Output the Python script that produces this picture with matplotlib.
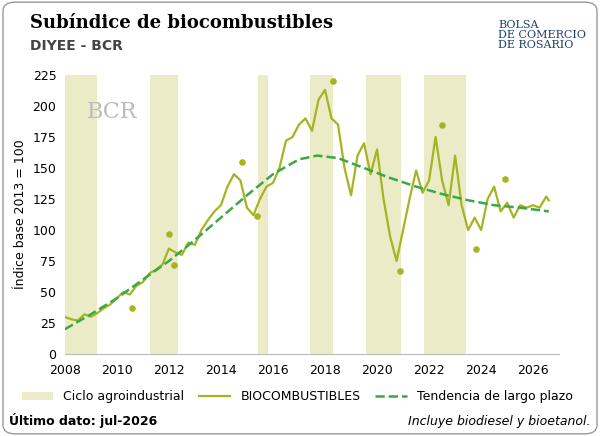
import matplotlib.pyplot as plt
from matplotlib.patches import FancyBboxPatch

# serie (aprox. trimestral)
t = [2008.0, 2008.25, 2008.5, 2008.75, 2009.0, 2009.25, 2009.5, 2009.75, 2010.0, 2010.25,
     2010.5, 2010.75, 2011.0, 2011.25, 2011.5, 2011.75, 2012.0, 2012.25, 2012.5, 2012.75,
     2013.0, 2013.25, 2013.5, 2013.75, 2014.0, 2014.25, 2014.5, 2014.75, 2015.0, 2015.25,
     2015.5, 2015.75, 2016.0, 2016.25, 2016.5, 2016.75, 2017.0, 2017.25, 2017.5, 2017.75,
     2018.0, 2018.25, 2018.5, 2018.75, 2019.0, 2019.25, 2019.5, 2019.75, 2020.0, 2020.25,
     2020.5, 2020.75, 2021.0, 2021.25, 2021.5, 2021.75, 2022.0, 2022.25, 2022.5, 2022.75,
     2023.0, 2023.25, 2023.5, 2023.75, 2024.0, 2024.25, 2024.5, 2024.75, 2025.0, 2025.25,
     2025.5, 2025.75, 2026.0, 2026.25, 2026.5, 2026.6]
bio = [30, 28, 27, 32, 30, 33, 37, 40, 45, 50,
       48, 55, 58, 65, 68, 72, 85, 82, 80, 90,
       88, 100, 108, 115, 120, 135, 145, 140, 118, 112,
       125, 135, 138, 150, 172, 175, 185, 190, 180, 205,
       213, 190, 185, 150, 128, 160, 170, 145, 165, 125,
       95, 75, 100, 125, 148, 130, 140, 175, 140, 120,
       160, 120, 100, 110, 100, 125, 135, 115, 122, 110,
       120, 118, 120, 118, 127, 124]

# puntos destacados
dot_t = [2010.6, 2012.0, 2012.2, 2014.8, 2015.4, 2018.3, 2020.9, 2022.5, 2023.8, 2024.9]
dot_v = [37, 97, 72, 155, 111, 220, 67, 185, 85, 141]

# tendencia de largo plazo
tr_t = [2008, 2009, 2010, 2011, 2012, 2013, 2014, 2015, 2016, 2017, 2017.7,
        2018.5, 2019.5, 2020.5, 2021.5, 2022.5, 2023.5, 2024.5, 2025.5, 2026.6]
tr_v = [20, 32, 45, 60, 75, 92, 110, 128, 145, 157, 160,
        158, 150, 142, 135, 129, 124, 120, 118, 115]

# ciclos agroindustriales
ciclos = [(2008.0, 2009.25), (2011.27, 2012.35), (2015.42, 2015.8),
          (2017.42, 2018.3), (2019.58, 2020.92), (2021.8, 2023.4)]

fig = plt.figure(figsize=(6, 4.36), dpi=100)
fig.patches.append(FancyBboxPatch((0.005, 0.005), 0.99, 0.99, boxstyle="round,pad=0,rounding_size=0.02",
                                  transform=fig.transFigure, fc='none', ec='#999999', lw=1))
ax = fig.add_axes([0.108, 0.188, 0.824, 0.64])

for i, (a, b) in enumerate(ciclos):
    ax.axvspan(a, b, color='#ecebc8', lw=0, label='Ciclo agroindustrial' if i == 0 else None)
ax.plot(t, bio, color='#a5b422', lw=1.6, label='BIOCOMBUSTIBLES')
ax.scatter(dot_t, dot_v, color='#a5b422', s=14, zorder=3)
ax.plot(tr_t, tr_v, color='#3aa845', lw=1.8, ls='--', label='Tendencia de largo plazo')

ax.set_xlim(2008, 2027)
ax.set_ylim(0, 225)
ax.set_xticks(range(2008, 2027, 2))
ax.set_yticks(range(0, 226, 25))
ax.tick_params(labelsize=9, length=0)
ax.tick_params(axis='x', pad=7)
ax.tick_params(axis='y', pad=6)
ax.set_ylabel('Índice base 2013 = 100', fontsize=9)
for s in ['top', 'right', 'left']:
    ax.spines[s].set_visible(False)
ax.spines['bottom'].set_color('#bbbbbb')

ax.text(2009.8, 190, 'BCR', fontsize=16, color='#bbbbbb', family='serif', ha='center')

ax.legend(loc='upper center', bbox_to_anchor=(0.47, -0.09), ncol=3, frameon=False, fontsize=9,
          handlelength=2.5, columnspacing=1.2)

fig.text(0.05, 0.935, 'Subíndice de biocombustibles', fontsize=13, fontweight='bold', family='serif')
fig.text(0.05, 0.885, 'DIYEE - BCR', fontsize=10, fontweight='bold', color='#444444')
fig.text(0.83, 0.955, 'BOLSA\nDE COMERCIO\nDE ROSARIO', fontsize=8, color='#1f3c6e', family='serif',
         va='top', linespacing=1.0)
fig.text(0.015, 0.025, 'Último dato: jul-2026', fontsize=9, fontweight='bold')
fig.text(0.985, 0.025, 'Incluye biodiesel y bioetanol.', fontsize=9, style='italic', ha='right')

fig.savefig('out.png', dpi=100)
